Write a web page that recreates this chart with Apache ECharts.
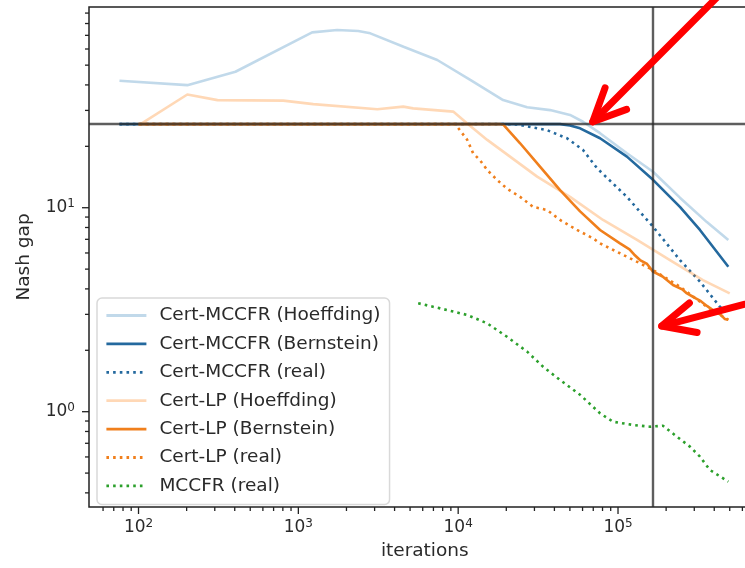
<!DOCTYPE html>
<html>
<head>
<meta charset="utf-8">
<script src="https://cdn.jsdelivr.net/npm/echarts@6/dist/echarts.min.js"></script>
<style>html,body{margin:0;padding:0;background:#fff}#c{width:745px;height:568px}</style>
</head>
<body>
<div id="c"></div>
<script>
// ---------- data ----------
const xRange = [49, 780000];
const yRange = [0.341, 96.4];
const xMajorTicks = [100, 1000, 10000, 100000];
const xMinorTicks = [60, 70, 80, 90, 200, 300, 400, 500, 600, 700, 800, 900,
  2000, 3000, 4000, 5000, 6000, 7000, 8000, 9000,
  20000, 30000, 40000, 50000, 60000, 70000, 80000, 90000,
  200000, 300000, 400000, 500000, 600000, 700000];
const yMajorTicks = [1, 10];
const yMinorTicks = [0.4, 0.5, 0.6, 0.7, 0.8, 0.9, 2, 3, 4, 5, 6, 7, 8, 9,
  20, 30, 40, 50, 60, 70, 80, 90];

const seriesNames = ['Cert-MCCFR (Hoeffding)', 'Cert-MCCFR (Bernstein)', 'Cert-MCCFR (real)',
  'Cert-LP (Hoeffding)', 'Cert-LP (Bernstein)', 'Cert-LP (real)', 'MCCFR (real)'];

const mccfrHoeffding = [[76, 41.9], [202, 39.9], [404, 46.4], [1220, 72.4], [1750, 74.3], [2370, 73.5],
  [2820, 71.6], [4550, 61.5], [7400, 53.0], [11900, 42.3], [19100, 33.7], [27000, 31.1], [37600, 30.1],
  [50100, 28.5], [60400, 26.4], [77200, 23.2], [113700, 18.5], [165600, 15.0], [244000, 11.2],
  [359700, 8.5], [490000, 6.95]];
const mccfrBernstein = [[76, 25.7], [43400, 25.7], [50100, 25.3], [57900, 24.5], [77200, 21.9],
  [113700, 17.8], [165600, 13.7], [244000, 10.1], [325600, 7.78], [490000, 5.14]];
const mccfrCertReal = [[76, 25.7], [19700, 25.7], [23400, 25.6], [36000, 24.0], [48000, 21.9],
  [60400, 19.2], [74000, 15.6], [113700, 11.3], [165600, 8.07], [244000, 5.54], [325600, 4.34],
  [434000, 3.27], [490000, 3.05]];
const lpHoeffding = [[103, 25.7], [202, 35.9], [312, 33.7], [805, 33.5], [1240, 32.2], [3120, 30.4],
  [4530, 31.3], [5230, 30.7], [9310, 29.6], [11400, 25.9], [15200, 21.5], [21100, 17.8], [31200, 14.2],
  [50100, 11.3], [80600, 8.71], [131500, 6.95], [211300, 5.54], [339800, 4.42], [500000, 3.80]];
const lpBernstein = [[100, 25.7], [18300, 25.7], [19100, 25.6], [24400, 20.7], [32500, 15.9],
  [43400, 12.2], [57900, 9.6], [77200, 7.78], [102900, 6.69], [118000, 6.25], [126000, 5.9],
  [137300, 5.54], [152000, 5.3], [165600, 4.86], [190000, 4.6], [220800, 4.18], [252000, 3.98],
  [270000, 3.8], [294400, 3.66], [330000, 3.48], [360000, 3.3], [392600, 3.15], [440000, 2.98],
  [465000, 2.85], [490000, 2.82]];
const lpCertReal = [[100, 25.7], [9580, 25.7], [9860, 25.3], [11400, 21.5], [12400, 18.5], [13700, 17.1],
  [15200, 15.3], [17500, 13.7], [20200, 12.4], [24400, 11.3], [29400, 10.1], [36000, 9.74],
  [43400, 8.71], [55400, 7.78], [69800, 7.08], [77200, 6.69], [102900, 5.98], [137300, 5.34],
  [165600, 4.95], [244000, 4.10], [359700, 3.27], [490000, 2.82]];
const mccfrReal = [[5620, 3.40], [7720, 3.21], [11400, 2.98], [15200, 2.71], [20200, 2.33], [27000, 1.97],
  [34000, 1.66], [43400, 1.43], [57900, 1.21], [77200, 0.982], [93100, 0.893], [124200, 0.861],
  [158500, 0.844], [191000, 0.854], [233700, 0.754], [281800, 0.674], [325600, 0.602],
  [375800, 0.518], [490000, 0.454]];

const refLevelY = 25.7;
const refLevelX = 165000;
// annotation arrows: [tail, tip] in data coordinates
const arrowTails = [[772000, 174.5], [1030000, 3.73]];
const arrowTips = [[69500, 26.4], [187600, 2.63]];

// ---------- styling ----------
const FONT = 'DejaVu Sans';
const TXT = '#2a2a2a';
const BLUE = '#24699e', ORANGE = '#f07f1c', GREEN = '#2ca02c';
const BLUE_L = 'rgba(31,119,180,0.28)', ORANGE_L = 'rgba(255,127,14,0.3)';
const DOT = [2.6, 4.1];

function mk(name, data, color, type, extra) {
  return Object.assign({
    name: name, type: 'line', data: data, symbol: 'none', showSymbol: false,
    lineStyle: {color: color, width: 2.6, type: type, cap: 'butt'},
    itemStyle: {color: color, opacity: 0}, emphasis: {disabled: true}, silent: true, animation: false
  }, extra || {});
}

function powLabel(v) {
  const l = Math.log10(v);
  const e = Math.round(l);
  if (Math.abs(l - e) > 1e-6) return '';
  return '{b|10}{s|' + e + '}';
}
const richLab = {
  b: {fontSize: 17, fontFamily: FONT, color: TXT, lineHeight: 20},
  s: {fontSize: 12, fontFamily: FONT, color: TXT, verticalAlign: 'top', lineHeight: 12}
};

const option = {
  backgroundColor: '#fff',
  animation: false,
  grid: {left: 89, top: 7, bottom: 61, right: -15.6, show: true, borderColor: '#222', borderWidth: 1.5,
    outerBoundsMode: 'none', containLabel: false},
  xAxis: {
    type: 'log', min: xRange[0], max: xRange[1],
    axisLine: {show: false}, axisTick: {show: false}, splitLine: {show: false}, minorTick: {show: false},
    axisLabel: {formatter: powLabel, rich: richLab, margin: 11, showMinLabel: false, showMaxLabel: false},
    name: 'iterations', nameLocation: 'middle', nameGap: 35,
    nameTextStyle: {fontFamily: FONT, fontSize: 18.5, color: TXT}
  },
  yAxis: {
    type: 'log', min: yRange[0], max: yRange[1],
    axisLine: {show: false}, axisTick: {show: false}, splitLine: {show: false}, minorTick: {show: false},
    axisLabel: {formatter: powLabel, rich: richLab, margin: 14, showMinLabel: false, showMaxLabel: false},
    name: 'Nash gap', nameLocation: 'middle', nameGap: 55,
    nameTextStyle: {fontFamily: FONT, fontSize: 18.5, color: TXT}
  },
  legend: {
    orient: 'vertical', left: 97, top: 298,
    itemWidth: 40, itemHeight: 14, itemGap: 9.4,
    padding: [8, 9, 9, 8],
    backgroundColor: 'rgba(255,255,255,0.8)', borderColor: '#d9d9d9', borderWidth: 1.5, borderRadius: 5,
    itemStyle: {opacity: 0},
    lineStyle: {width: 2.8},
    textStyle: {fontFamily: FONT, fontSize: 18.5, color: TXT, lineHeight: 18, padding: [0, 0, 0, 8]},
    selectedMode: false,
    data: seriesNames
  },
  series: [
    mk(seriesNames[0], mccfrHoeffding, BLUE_L, 'solid'),
    mk(seriesNames[1], mccfrBernstein, BLUE, 'solid'),
    mk(seriesNames[2], mccfrCertReal, BLUE, DOT),
    mk(seriesNames[3], lpHoeffding, ORANGE_L, 'solid'),
    mk(seriesNames[4], lpBernstein, ORANGE, 'solid'),
    mk(seriesNames[5], lpCertReal, ORANGE, DOT),
    mk(seriesNames[6], mccfrReal, GREEN, DOT, {
      markLine: {
        silent: true, symbol: 'none', animation: false,
        label: {show: false},
        lineStyle: {color: 'rgba(40,40,40,0.75)', width: 2.4, type: 'solid'},
        data: [{yAxis: refLevelY}, {xAxis: refLevelX}]
      }
    })
  ]
};

const chart = echarts.init(document.getElementById('c'), null, {renderer: 'canvas'});
chart.setOption(option);

// ticks + annotation arrows placed through the chart's own scales
const toX = v => chart.convertToPixel({xAxisIndex: 0}, v);
const toY = v => chart.convertToPixel({yAxisIndex: 0}, v);
const xl = toX(xRange[0]);
const yb = toY(yRange[0]);
const TICK = {stroke: '#222', lineWidth: 1.3};
const g = [];
function tickX(v, len) {
  const p = toX(v);
  g.push({type: 'line', silent: true, z: 50, shape: {x1: p, y1: yb, x2: p, y2: yb + len}, style: TICK});
}
function tickY(v, len) {
  const p = toY(v);
  g.push({type: 'line', silent: true, z: 50, shape: {x1: xl - len, y1: p, x2: xl, y2: p}, style: TICK});
}
xMajorTicks.forEach(v => tickX(v, 7));
xMinorTicks.forEach(v => tickX(v, 4));
yMajorTicks.forEach(v => tickY(v, 7));
yMinorTicks.forEach(v => tickY(v, 4));

const HEAD_LEN = 36, HEAD_ANG = 25 * Math.PI / 180;
arrowTails.forEach((tail, i) => {
  const tip = arrowTips[i];
  const t = [toX(tail[0]), toY(tail[1])];
  const p = [toX(tip[0]), toY(tip[1])];
  const dx = t[0] - p[0], dy = t[1] - p[1];
  const L = Math.hypot(dx, dy);
  const ux = dx / L, uy = dy / L;
  const rot = (a) => [p[0] + HEAD_LEN * (ux * Math.cos(a) - uy * Math.sin(a)),
                      p[1] + HEAD_LEN * (ux * Math.sin(a) + uy * Math.cos(a))];
  const style = {stroke: '#ff0000', lineWidth: 7, lineCap: 'round', lineJoin: 'round', fill: null};
  g.push({type: 'polyline', silent: true, z: 100, shape: {points: [t, p]}, style: style});
  g.push({type: 'polyline', silent: true, z: 100, shape: {points: [rot(HEAD_ANG), p, rot(-HEAD_ANG)]}, style: style});
});
chart.setOption({graphic: g});
</script>
</body>
</html>
